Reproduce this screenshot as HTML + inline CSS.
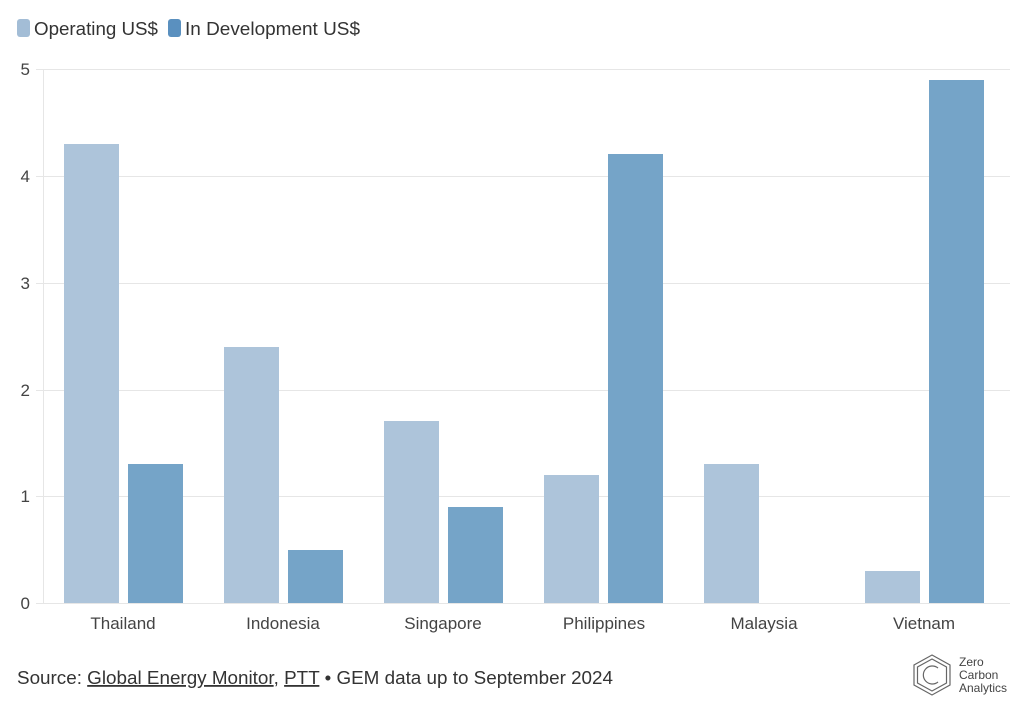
<!DOCTYPE html>
<html><head><meta charset="utf-8"><style>
body{margin:0;background:#fff;width:1023px;height:711px;overflow:hidden}
svg{display:block;font-family:"Liberation Sans",sans-serif}
</style></head><body>
<svg width="1023" height="711" viewBox="0 0 1023 711">
<rect x="17" y="19" width="13" height="18" rx="3" fill="#a3bdd6"/>
<text x="34" y="35" font-size="18" fill="#333" textLength="124" lengthAdjust="spacingAndGlyphs">Operating US$</text>
<rect x="168" y="19" width="13" height="18" rx="3" fill="#5a90bf"/>
<text x="185" y="35" font-size="18" fill="#333" textLength="175" lengthAdjust="spacingAndGlyphs">In Development US$</text>
<g stroke="#e6e6e6" stroke-width="1">
<line x1="36" x2="1010" y1="69.5" y2="69.5"/>
<line x1="36" x2="1010" y1="176.5" y2="176.5"/>
<line x1="36" x2="1010" y1="283.5" y2="283.5"/>
<line x1="36" x2="1010" y1="390.5" y2="390.5"/>
<line x1="36" x2="1010" y1="496.5" y2="496.5"/>
<line x1="36" x2="1010" y1="603.5" y2="603.5"/>
<line x1="43.5" x2="43.5" y1="69" y2="603"/>
</g>
<g font-size="17" fill="#444" text-anchor="end">
<text x="30" y="75">5</text><text x="30" y="182">4</text><text x="30" y="289">3</text>
<text x="30" y="396">2</text><text x="30" y="502">1</text><text x="30" y="609">0</text>
</g>
<g fill="#adc4da">
<rect x="64" y="144" width="55" height="459"/>
<rect x="224" y="347" width="55" height="256"/>
<rect x="384" y="421" width="55" height="182"/>
<rect x="544" y="475" width="55" height="128"/>
<rect x="704" y="464" width="55" height="139"/>
<rect x="865" y="571" width="55" height="32"/>
</g>
<g fill="#75a4c8">
<rect x="128" y="464" width="55" height="139"/>
<rect x="288" y="550" width="55" height="53"/>
<rect x="448" y="507" width="55" height="96"/>
<rect x="608" y="154" width="55" height="449"/>
<rect x="929" y="80" width="55" height="523"/>
</g>
<g font-size="17" fill="#444" text-anchor="middle">
<text x="123" y="629">Thailand</text><text x="283" y="629">Indonesia</text>
<text x="443" y="629">Singapore</text><text x="604" y="629">Philippines</text>
<text x="764" y="629">Malaysia</text><text x="924" y="629">Vietnam</text>
</g>
<text x="17" y="684" font-size="18" fill="#333" textLength="596" lengthAdjust="spacingAndGlyphs">Source: <tspan text-decoration="underline">Global Energy Monitor</tspan>, <tspan text-decoration="underline">PTT</tspan> • GEM data up to September 2024</text>
<g fill="none" stroke="#666" stroke-width="1.2">
<polygon points="932,655 950,665 950,685 932,695 914,685 914,665"/>
<polygon points="932,659 946.5,667 946.5,683 932,691 917.5,683 917.5,667"/>
<path d="M938,668 A9,9 0 1 0 938,682"/>
</g>
<g font-size="12" fill="#444"><text x="959" y="666">Zero</text><text x="959" y="679">Carbon</text><text x="959" y="692">Analytics</text></g>
</svg>
</body></html>
